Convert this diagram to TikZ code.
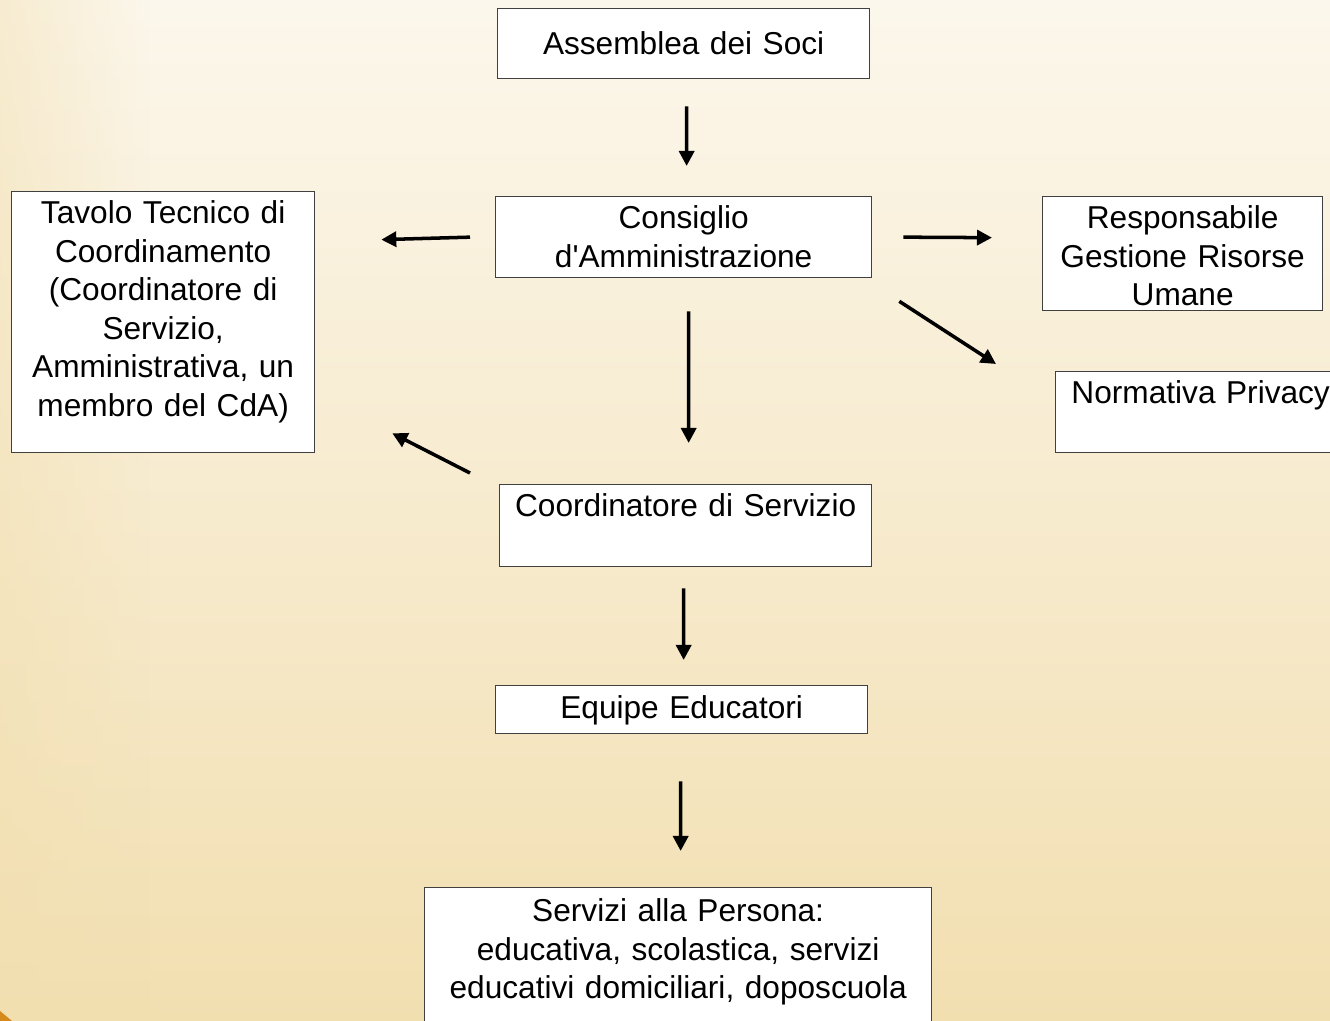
\documentclass[tikz,border=0pt]{standalone}
\usepackage{fontspec}
\setmainfont{Liberation Sans}
\usetikzlibrary{arrows.meta, fadings}
\definecolor{bgcream}{HTML}{FCF7EC}
\definecolor{bgsand}{HTML}{F2DFB0}
\definecolor{cornerorange}{HTML}{D6891C}
\definecolor{boxline}{HTML}{404040}
\tikzstyle{arrow} = [line width=2pt, -{Triangle[length=0.3cm, width=0.3cm]}]

\begin{document}
\begin{tikzpicture}[
orgbox/.style={rectangle, draw=boxline, line width=0.75pt, fill=white, anchor=north west, inner sep=0pt, align=center, font=\fontsize{18}{21.9}\selectfont}
]
\useasboundingbox (0,0) rectangle (26.6,-20.42);
\clip (0,0) rectangle (26.6,-20.42);
% background
\shade[top color=bgcream, bottom color=bgsand] (0,0) rectangle (26.6,-20.42);
\fill[bgsand, path fading=east, opacity=0.45] (0,0) rectangle (3,-20.42);
\fill[cornerorange] (0,-20.22) -- (0.24,-20.42) -- (0,-20.42) -- cycle;

\node[orgbox, text width=7.44cm, text height=0.92cm, text depth=0.48cm] (ass) at (9.94,-0.16) {Assemblea dei Soci};
\node[orgbox, text width=7.52cm, text height=0.64cm, text depth=0.98cm] (cda) at (9.90,-3.92) {Consiglio\\d\textquotesingle Amministrazione};
\node[orgbox, text width=6.06cm, text height=0.64cm, text depth=4.58cm] (tav) at (0.22,-3.82) {Tavolo Tecnico di\\Coordinamento\\(Coordinatore di\\Servizio,\\Amministrativa, un\\membro del CdA)};
\node[orgbox, text width=5.60cm, text height=0.64cm, text depth=1.64cm] (res) at (20.84,-3.92) {Responsabile\\Gestione Risorse\\Umane};
\node[orgbox, text width=5.80cm, text height=0.64cm, text depth=0.98cm] (nor) at (21.10,-7.42) {Normativa Privacy};
\node[orgbox, text width=7.44cm, text height=0.64cm, text depth=1.00cm] (coo) at (9.98,-9.68) {Coordinatore di Servizio};
\node[orgbox, text width=7.44cm, text height=0.66cm, text depth=0.30cm] (equ) at (9.90,-13.70) {Equipe Educatori};
\node[orgbox, text width=10.14cm, text height=0.68cm, text depth=2.30cm] (ser) at (8.48,-17.74) {Servizi alla Persona:\\educativa, scolastica, servizi\\educativi domiciliari, doposcuola};

\draw[arrow] ([shift={(0.06,-0.54)}]ass.south) -- ([shift={(0.06,0.6)}]cda.north);
\draw[arrow] ([shift={(-0.5,0)}]cda.west) -- ([shift={(1.32,1.65)}]tav.east);
\draw[arrow] ([shift={(0.62,0)}]cda.east) -- ([shift={(-1.0,0.32)}]res.west);
\draw[arrow] ([shift={(0.54,-0.46)}]cda.south east) -- ([shift={(-1.18,0.14)}]nor.north west);
\draw[arrow] ([shift={(0.1,-0.66)}]cda.south) -- ([shift={(0.06,0.82)}]coo.north);
\draw[arrow] ([shift={(-0.58,0.22)}]coo.north west) -- ([shift={(1.54,0.4)}]tav.south east);
\draw[arrow] ([shift={(-0.04,-0.42)}]coo.south) -- ([shift={(0.04,0.5)}]equ.north);
\draw[arrow] ([shift={(-0.02,-0.94)}]equ.south) -- ([shift={(0.05,0.72)}]ser.north);
\end{tikzpicture}
\end{document}
